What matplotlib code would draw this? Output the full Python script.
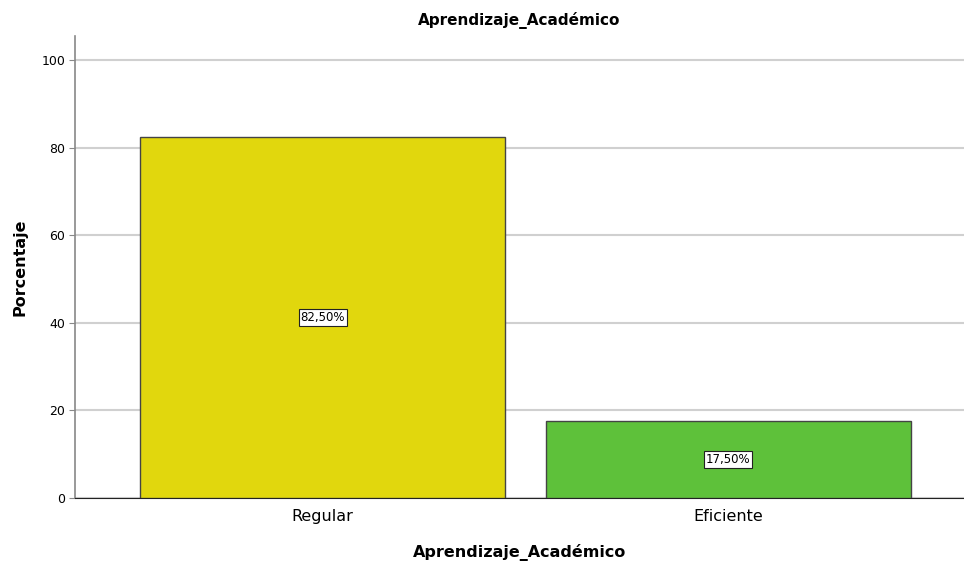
import matplotlib
matplotlib.use("Agg")
import matplotlib.pyplot as plt

categorias = ['Regular', 'Eficiente']
porcentajes = [82.5, 17.5]
etiquetas = ['82,50%', '17,50%']
colores = ['#E1D70D', '#5EC13A']
yticks = [0, 20, 40, 60, 80, 100]

fig = plt.figure(figsize=(9.64, 5.67), dpi=100)
ax = fig.add_axes([0.0778, 0.1217, 0.922, 0.8148])

pos = list(range(len(categorias)))
ax.bar(pos, porcentajes, width=0.9, color=colores, edgecolor='#444444', linewidth=1, zorder=3)
for p, v, t in zip(pos, porcentajes, etiquetas):
    ax.text(p, v / 2, t, ha='center', va='center', fontsize=8.5, zorder=4,
            bbox=dict(boxstyle='square,pad=0.15', fc='white', ec='#222222', lw=0.8))

ax.set_xlim(-0.61, 1.58)
ax.set_ylim(0, 105.5)
ax.set_yticks(yticks)
ax.set_yticklabels([str(y) for y in yticks], fontsize=9)
ax.set_xticks(pos)
ax.set_xticklabels(categorias, fontsize=11.5)
ax.tick_params(axis='x', length=0, pad=8)
ax.tick_params(axis='y', length=4, color='#888888', pad=3)
ax.yaxis.grid(True, color='#d0d0d0', linewidth=1.5, zorder=0)
ax.set_axisbelow(True)

for s in ['top', 'right']:
    ax.spines[s].set_visible(False)
ax.spines['left'].set_color('#888888')
ax.spines['left'].set_linewidth(1.2)
ax.spines['bottom'].set_color('#222222')

ax.set_title('Aprendizaje_Académico', fontsize=11, fontweight='bold', pad=8)
ax.set_xlabel('Aprendizaje_Académico', fontsize=11.5, fontweight='bold', labelpad=14)
ax.set_ylabel('Porcentaje', fontsize=11.5, fontweight='bold', labelpad=10)

fig.savefig('out.png', dpi=100)
